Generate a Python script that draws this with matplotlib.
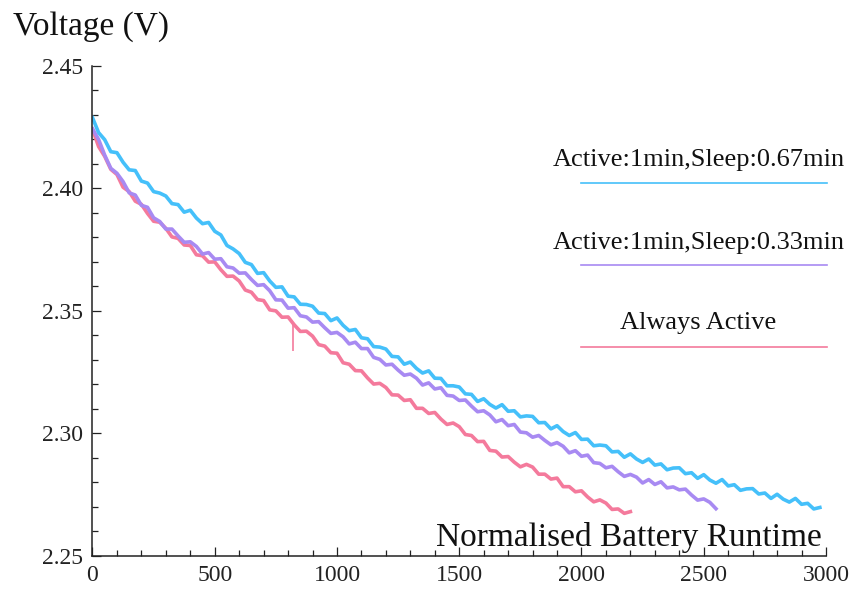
import matplotlib.pyplot as plt
import numpy as np

plt.rcParams['font.family'] = ['Liberation Serif', 'DejaVu Serif']

# runtime grid (normalised units) and voltages
runtime_067 = np.arange(0, 2976, 25)
volt_067 = [
    2.4289, 2.4228, 2.4199, 2.4150, 2.4146, 2.4107, 2.4076, 2.4073, 2.4030, 2.4022,
    2.3987, 2.3981, 2.3969, 2.3938, 2.3934, 2.3903, 2.3911, 2.3879, 2.3856, 2.3861,
    2.3825, 2.3810, 2.3767, 2.3753, 2.3734, 2.3698, 2.3689, 2.3653, 2.3656, 2.3622,
    2.3596, 2.3598, 2.3560, 2.3557, 2.3527, 2.3526, 2.3519, 2.3491, 2.3489, 2.3460,
    2.3471, 2.3441, 2.3419, 2.3424, 2.3390, 2.3386, 2.3354, 2.3352, 2.3344, 2.3314,
    2.3312, 2.3282, 2.3291, 2.3265, 2.3246, 2.3255, 2.3225, 2.3224, 2.3194, 2.3194,
    2.3189, 2.3161, 2.3159, 2.3130, 2.3141, 2.3118, 2.3103, 2.3117, 2.3090, 2.3092,
    2.3067, 2.3071, 2.3069, 2.3043, 2.3044, 2.3018, 2.3031, 2.3007, 2.2991, 2.3003,
    2.2975, 2.2976, 2.2949, 2.2952, 2.2949, 2.2924, 2.2926, 2.2902, 2.2916, 2.2895,
    2.2881, 2.2895, 2.2870, 2.2875, 2.2851, 2.2858, 2.2859, 2.2835, 2.2839, 2.2816,
    2.2831, 2.2809, 2.2796, 2.2811, 2.2785, 2.2790, 2.2767, 2.2773, 2.2774, 2.2752,
    2.2756, 2.2734, 2.2751, 2.2731, 2.2719, 2.2734, 2.2710, 2.2714, 2.2691, 2.2697,
]

runtime_033 = np.arange(0, 2551, 25)
volt_033 = [
    2.4244, 2.4200, 2.4136, 2.4082, 2.4062, 2.4028, 2.3982, 2.3973, 2.3931, 2.3923,
    2.3880, 2.3865, 2.3834, 2.3834, 2.3806, 2.3780, 2.3782, 2.3763, 2.3732, 2.3738,
    2.3711, 2.3713, 2.3680, 2.3675, 2.3654, 2.3655, 2.3628, 2.3604, 2.3607, 2.3582,
    2.3545, 2.3544, 2.3511, 2.3513, 2.3480, 2.3475, 2.3454, 2.3456, 2.3431, 2.3408,
    2.3412, 2.3394, 2.3365, 2.3372, 2.3346, 2.3346, 2.3310, 2.3302, 2.3279, 2.3282,
    2.3258, 2.3237, 2.3242, 2.3225, 2.3197, 2.3206, 2.3181, 2.3186, 2.3155, 2.3152,
    2.3134, 2.3136, 2.3111, 2.3088, 2.3092, 2.3075, 2.3047, 2.3056, 2.3031, 2.3036,
    2.3005, 2.3002, 2.2984, 2.2991, 2.2971, 2.2953, 2.2962, 2.2947, 2.2920, 2.2929,
    2.2906, 2.2911, 2.2880, 2.2877, 2.2859, 2.2865, 2.2843, 2.2824, 2.2832, 2.2821,
    2.2797, 2.2811, 2.2791, 2.2802, 2.2777, 2.2781, 2.2769, 2.2772, 2.2748, 2.2727,
    2.2732, 2.2718, 2.2692,
]

runtime_active = np.arange(0, 2201, 25)
volt_active = [
    2.4242, 2.4171, 2.4131, 2.4078, 2.4057, 2.4005, 2.3987, 2.3948, 2.3935, 2.3898,
    2.3866, 2.3862, 2.3837, 2.3802, 2.3796, 2.3769, 2.3767, 2.3729, 2.3725, 2.3699,
    2.3700, 2.3668, 2.3641, 2.3642, 2.3622, 2.3585, 2.3576, 2.3546, 2.3542, 2.3504,
    2.3500, 2.3474, 2.3475, 2.3443, 2.3416, 2.3417, 2.3397, 2.3362, 2.3356, 2.3329,
    2.3327, 2.3288, 2.3282, 2.3256, 2.3255, 2.3226, 2.3201, 2.3204, 2.3187, 2.3157,
    2.3156, 2.3134, 2.3137, 2.3102, 2.3102, 2.3081, 2.3085, 2.3058, 2.3036, 2.3042,
    2.3027, 2.2995, 2.2991, 2.2966, 2.2967, 2.2930, 2.2927, 2.2903, 2.2905, 2.2882,
    2.2863, 2.2873, 2.2862, 2.2833, 2.2833, 2.2813, 2.2817, 2.2782, 2.2782, 2.2761,
    2.2765, 2.2740, 2.2720, 2.2728, 2.2715, 2.2689, 2.2691, 2.2673, 2.2680,
]
# single glitch in the always-active trace
glitch_x = 822
glitch_lo, glitch_hi = 2.3335, 2.3445

labels = ['Active:1min,Sleep:0.67min', 'Active:1min,Sleep:0.33min', 'Always Active']
colors = ['#45C0FA', '#A88AF2', '#F47A9C']

fig = plt.figure(figsize=(8.54, 5.92), dpi=100)
ax = fig.add_axes([0.1083, 0.0613, 0.8589, 0.8272])

ax.plot(runtime_active, volt_active, color=colors[2], lw=2.6)
ax.vlines(glitch_x, glitch_lo, glitch_hi, color=colors[2], lw=1.2)
ax.plot(runtime_033, volt_033, color=colors[1], lw=2.6)
ax.plot(runtime_067, volt_067, color=colors[0], lw=2.6)

ax.set_xlim(0, 3000)
ax.set_ylim(2.25, 2.45)
ax.set_xticks([0, 500, 1000, 1500, 2000, 2500, 3000])
ax.set_xticks(np.arange(0, 3001, 100), minor=True)
ax.set_yticks([2.25, 2.30, 2.35, 2.40, 2.45])
ax.set_yticklabels(['2.25', '2.30', '2.35', '2.40', '2.45'])
ax.set_yticks(np.arange(2.25, 2.451, 0.01), minor=True)

for s in ['top', 'right']:
    ax.spines[s].set_visible(False)
for s in ['left', 'bottom']:
    ax.spines[s].set_linewidth(1.1)
    ax.spines[s].set_color('#222222')

ax.tick_params(which='major', direction='in', length=6.5, width=0.9,
               labelsize=17, pad=7, colors='#222222')
ax.tick_params(which='minor', direction='in', length=4.2, width=0.9, colors='#222222')

# hand-placed legend: label above a coloured line
legend_y_text = [0.8082, 0.6387, 0.4753]
legend_y_line = [0.7618, 0.5937, 0.4269]
for lab, c, yt, yl in zip(labels, colors, legend_y_text, legend_y_line):
    ax.text(0.826, yt, lab, transform=ax.transAxes, ha='center', va='center',
            fontsize=19, color='#111111', clip_on=False)
    ax.plot([0.666, 1.001], [yl, yl], transform=ax.transAxes, color=c, lw=1.2,
            clip_on=False)

fig.text(0.0152, 0.9409, 'Voltage (V)', fontsize=24, ha='left', va='baseline',
         color='#111111')
fig.text(0.9625, 0.0777, 'Normalised Battery Runtime', fontsize=24, ha='right',
         va='baseline', color='#111111')

fig.savefig('out.png', dpi=100)
